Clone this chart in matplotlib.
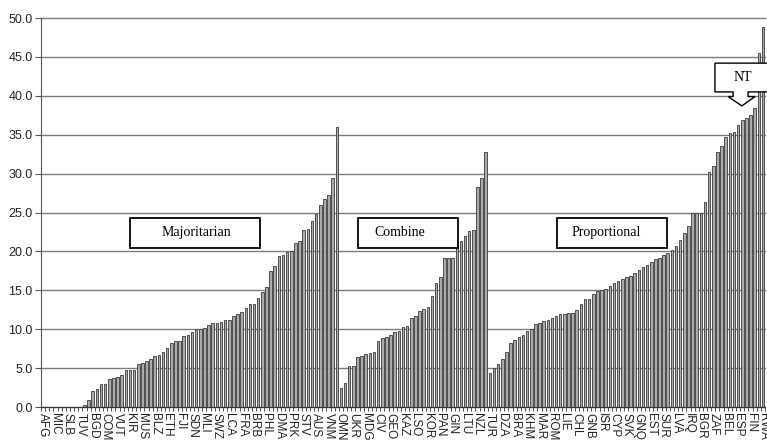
import numpy as np
import matplotlib.pyplot as plt
from matplotlib.patches import Rectangle, Polygon
from matplotlib.ticker import FormatStrFormatter, FixedLocator

# share of seats (%) per country, sorted within each electoral system
majoritarian = [0, 0, 0, 0, 0, 0, 0, 0, 0, 0,
                0.3, 0.9, 2.0, 2.3, 3.0, 3.0, 3.6, 3.7, 3.8, 4.1,
                4.7, 4.7, 4.75, 5.5, 5.7, 5.9, 6.2, 6.6, 6.7, 7.1,
                7.6, 8.2, 8.5, 8.5, 9.1, 9.2, 9.7, 10.0, 10.0, 10.1,
                10.5, 10.8, 10.8, 10.9, 11.2, 11.2, 11.7, 12.0, 12.25, 12.7,
                13.2, 13.3, 14.0, 14.8, 15.4, 17.5, 18.1, 19.4, 19.5, 19.9,
                20.1, 21.1, 21.4, 22.7, 22.9, 23.9, 24.8, 26.0, 26.7, 27.2,
                29.4, 36.0]
combine = [2.4, 3.1, 5.3, 5.3, 6.4, 6.6, 6.8, 7.0, 7.1, 8.5,
           8.9, 9.0, 9.3, 9.7, 9.8, 10.3, 10.4, 11.5, 11.7, 12.4,
           12.6, 12.9, 14.3, 15.9, 16.7, 19.2, 19.2, 19.2, 20.8, 21.3,
           22.0, 22.6, 22.8, 28.3, 29.4, 32.8]
proportional = [4.4, 5.0, 5.5, 6.2, 7.1, 8.2, 8.6, 9.0, 9.2, 9.8,
                10.0, 10.7, 10.8, 11.1, 11.2, 11.4, 11.7, 12.0, 12.0, 12.1,
                12.1, 12.5, 13.3, 13.9, 13.9, 14.5, 14.9, 15.0, 15.2, 15.5,
                15.9, 16.2, 16.4, 16.7, 16.8, 17.2, 17.6, 18.0, 18.3, 18.6,
                19.0, 19.2, 19.5, 19.8, 20.2, 20.7, 21.5, 22.4, 23.3, 25.0,
                25.0, 25.0, 26.3, 30.2, 31.0, 32.8, 33.6, 34.7, 35.2, 35.3,
                36.2, 36.9, 37.1, 37.5, 38.4, 45.5, 48.9]

# only every third country gets a label
tick_labels = ["AFG", "MIC", "SLB", "TUV", "BGD", "COM", "VUT", "KIR", "MUS", "BLZ",
               "ETH", "FJI", "SDN", "MLI", "SWZ", "LCA", "FRA", "BRB", "PHL", "DMA",
               "PRK", "STV", "AUS", "VNM", "OMN", "UKR", "MDG", "CIV", "GEO", "KAZ",
               "LSO", "KOR", "PAN", "GIN", "LTU", "NZL", "TUR", "DZA", "BRA", "KHM",
               "MAR", "ROM", "LIE", "CHL", "GNB", "ISR", "CYP", "SVK", "GNQ", "EST",
               "SUR", "LVA", "IRQ", "BGR", "ZAF", "BEL", "ESP", "FIN", "RWA"]
label_step = 3

# group label boxes: (text, left, right, text x) in category units
group_boxes = [("Majoritarian", 21.0, 52.4, 37.0),
               ("Combine", 76.2, 100.4, 86.3),
               ("Proportional", 124.3, 150.8, 136.1)]
box_bottom, box_top = 20.5, 24.3

values = majoritarian + combine + proportional
n = len(values)
x = np.arange(n)

fig = plt.figure(figsize=(7.67, 4.40), dpi=100)
ax = fig.add_axes([41 / 767, 33 / 440, 724 / 767, 389 / 440])

ax.bar(x, values, width=0.62, color="#ababab", edgecolor="#3a3a3a",
       linewidth=0.6, zorder=2)

ax.set_xlim(-0.5, n - 0.5)
ax.set_ylim(0, 50)
ax.set_yticks(np.arange(0, 50.1, 5))
ax.yaxis.set_major_formatter(FormatStrFormatter("%.1f"))
ax.grid(axis="y", color="#7d7d7d", linewidth=1.0, zorder=0, clip_on=False)
ax.set_axisbelow(True)

ax.set_xticks(x[::label_step])
ax.set_xticklabels(tick_labels, rotation=-90, va="top", ha="center",
                   family="Liberation Sans", fontsize=8.5, color="#222222")
ax.xaxis.set_minor_locator(FixedLocator(np.arange(-0.5, n, 1)))
ax.tick_params(axis="x", which="major", length=0, pad=4)
ax.tick_params(axis="x", which="minor", length=3, width=0.6, color="#333333")
ax.tick_params(axis="y", length=4, width=0.8, color="#555555", pad=2,
               labelsize=9, labelcolor="#222222")
for lbl in ax.get_yticklabels():
    lbl.set_family("Liberation Sans")

for side in ("top", "right"):
    ax.spines[side].set_visible(False)
ax.spines["left"].set_color("#555555")
ax.spines["bottom"].set_color("#333333")

for text, left, right, tx in group_boxes:
    ax.add_patch(Rectangle((left, box_bottom), right - left, box_top - box_bottom,
                           facecolor="white", edgecolor="black", linewidth=1.3,
                           zorder=4))
    ax.text(tx, (box_bottom + box_top) / 2, text, ha="center", va="center",
            family="Liberation Serif", fontsize=10, zorder=5)

# "NT" down-arrow callout
bl, br, bt, bb = 162.4, 176.0, 44.2, 40.5
sl, sr, neck = 166.8, 170.4, 39.9
hl, hr, tip_x, tip_y = 165.6, 172.1, 168.9, 38.7
callout = Polygon([(bl, bt), (br, bt), (br, bb), (sr, bb), (sr, neck), (hr, neck),
                   (tip_x, tip_y), (hl, neck), (sl, neck), (sl, bb), (bl, bb)],
                  closed=True, facecolor="white", edgecolor="black",
                  linewidth=1.0, zorder=4, clip_on=False)
ax.add_patch(callout)
ax.text(169.1, 42.4, "NT", ha="center", va="center",
        family="Liberation Serif", fontsize=10, zorder=5, clip_on=False)

fig.savefig("out.png", dpi=100, facecolor="white")
